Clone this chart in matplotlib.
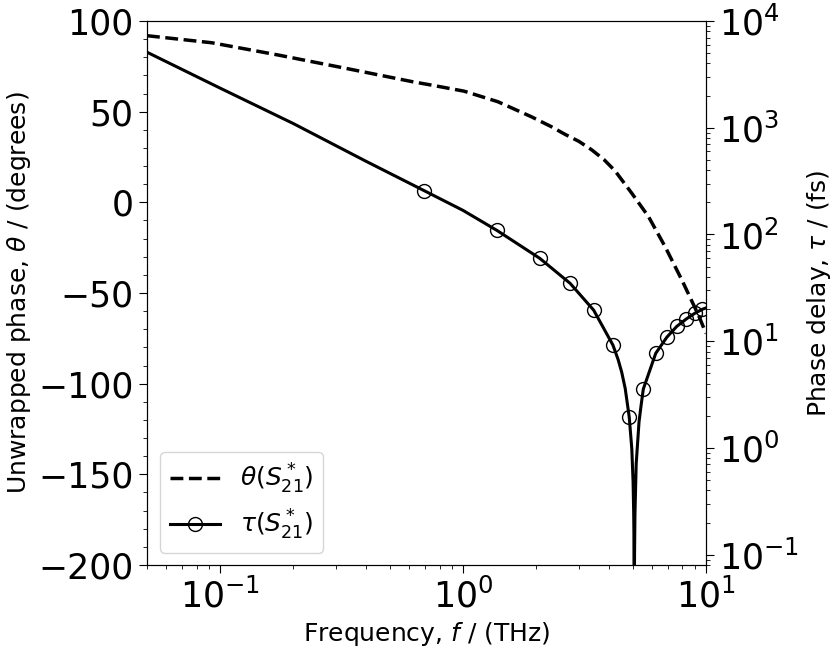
import matplotlib
matplotlib.use('Agg')
import matplotlib.pyplot as plt
from matplotlib.ticker import MultipleLocator
from matplotlib.lines import Line2D

# unwrapped phase (left axis)
theta_freq = [0.05, 0.0924, 0.174, 0.329, 0.62, 0.738, 1.01, 1.39, 1.91, 2.31,
              2.62, 3.0, 3.38, 3.8, 4.22, 4.95, 5.8, 6.79, 7.96, 9.33, 10.0]
theta_deg = [91.9, 88.0, 81.2, 73.9, 66.5, 64.7, 61.3, 55.5, 47.2, 41.7,
             37.6, 33.6, 29.0, 23.6, 17.4, 5.0, -7.9, -24.5, -42.9, -62.5, -72.3]

# phase delay (right axis)
tau_freq = [0.05, 0.1, 0.2, 0.4, 0.69, 1.0, 1.38, 2.07, 2.76, 3.45, 4.14, 4.35,
            4.5, 4.65, 4.83, 4.95, 5.01, 5.04, 5.05, 5.065, 5.08, 5.1, 5.16,
            5.3, 5.4, 5.52, 6.21, 6.9, 7.59, 8.28, 8.97, 9.66, 10.0]
tau_fs = [5100, 2350, 1095, 483, 258, 168, 109, 59.7, 34.8, 19.5, 9.18, 6.7,
          5.1, 3.6, 1.95, 0.98, 0.48, 0.24, 0.16, 0.01, 0.1, 0.24, 0.71,
          1.75, 2.46, 3.56, 7.7, 10.9, 13.8, 16.1, 18.2, 19.9, 20.5]

marker_freq = [0.69, 1.38, 2.07, 2.76, 3.45, 4.14, 4.83, 5.52, 6.21, 6.90,
               7.59, 8.28, 8.97, 9.66]
marker_tau = [258, 109, 59.7, 34.8, 19.5, 9.18, 1.95, 3.56, 7.7, 10.9,
              13.8, 16.1, 18.2, 19.9]

fig = plt.figure(figsize=(8.36, 6.52), dpi=100)
ax = fig.add_axes([147 / 836, 87 / 652, 559 / 836, 544 / 652])
ax2 = ax.twinx()

ax.plot(theta_freq, theta_deg, color='black', lw=2.5, ls='--')
ax2.plot(tau_freq, tau_fs, color='black', lw=2.2)
ax2.plot(marker_freq, marker_tau, ls='none', marker='o', ms=10,
         mfc='none', mec='black', mew=1)

ax.set_xscale('log')
ax.set_xlim(0.05, 10)
ax.set_ylim(-200, 100)
ax.yaxis.set_minor_locator(MultipleLocator(10))
ax2.set_yscale('log')
ax2.set_ylim(0.08, 1e4)

for a in (ax, ax2):
    a.tick_params(which='major', labelsize=25, length=6)
    a.tick_params(which='minor', length=3)

ax.set_xlabel(r'Frequency, $f$ / (THz)', fontsize=18)
ax.set_ylabel(r'Unwrapped phase, $\theta$ / (degrees)', fontsize=18)
ax2.set_ylabel(r'Phase delay, $\tau$ / (fs)', fontsize=18)

handles = [Line2D([], [], color='black', lw=2.5, ls='--'),
           Line2D([], [], color='black', lw=2.2, marker='o', ms=10,
                  mfc='none', mec='black', mew=1)]
ax2.legend(handles, [r'$\theta(S_{21}^*)$', r'$\tau(S_{21}^*)$'],
           loc='lower left', fontsize=18)

fig.savefig('out.png', dpi=100)
